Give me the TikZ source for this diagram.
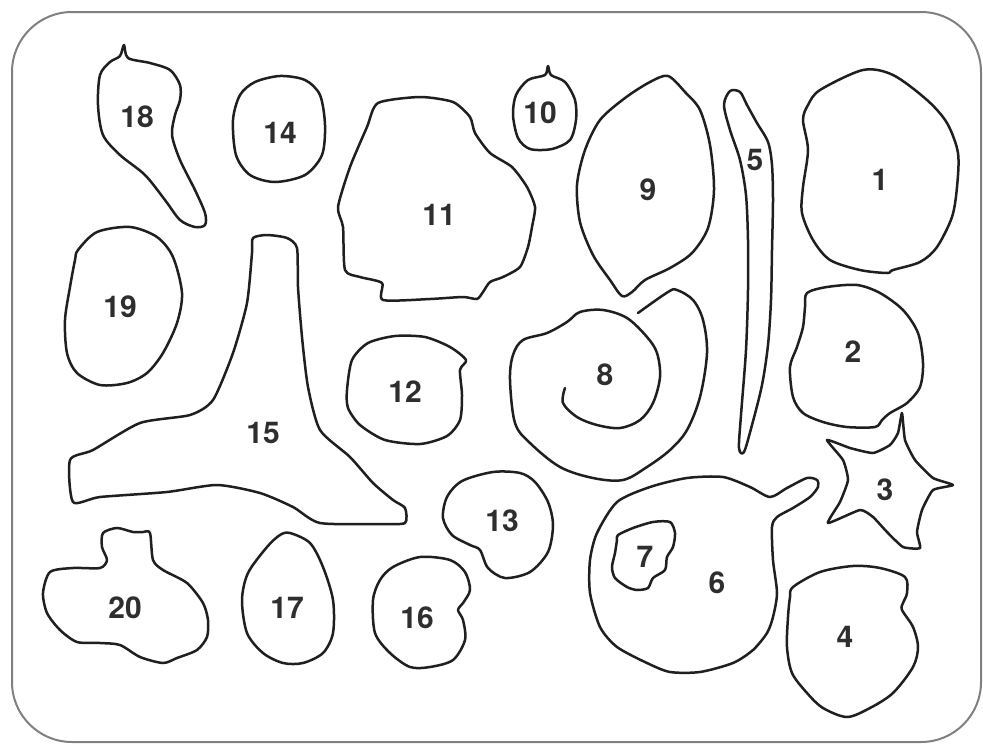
\documentclass[tikz,border=0pt]{standalone}
\usepackage{fontspec}
\setmainfont{TeX Gyre Heros}
\begin{document}
\begin{tikzpicture}[x=1pt,y=-1pt,
  blob/.style={draw=black!88, line width=2.5pt, line join=round, line cap=round},
  lbl/.style={font=\fontsize{30}{32}\selectfont\bfseries, text=black!82, inner sep=0pt}]
\useasboundingbox (0,0) rectangle (983,744);
\fill[white] (0,0) rectangle (983,744);
% frame
\draw[draw=black!50, line width=2pt, rounded corners=60pt] (12,12) rectangle (981,742);
% 18
\draw[blob] plot[smooth cycle, tension=0.5] coordinates {(124,45) (128,58) (150,63) (170,70) (180,85) (180,100) (175,115) (172,135) (180,160) (195,190) (205,213) (205,225) (195,227) (180,220) (165,200) (145,175) (120,155) (103,135) (98,105) (100,75) (110,62) (120,56)};
% 14
\draw[blob] plot[smooth cycle] coordinates {(280,76) (305,80) (320,95) (325,125) (322,155) (305,175) (275,182) (250,175) (236,155) (233,120) (240,95) (255,82)};
% 10
\draw[blob] plot[smooth cycle, tension=0.5] coordinates {(548,66) (551,75) (565,82) (575,100) (576,120) (570,140) (552,149) (530,149) (518,138) (513,115) (516,95) (528,80) (545,75)};
% 11
\draw[blob] plot[smooth cycle, tension=0.4] coordinates {(378,103) (420,97) (453,102) (470,117) (475,133) (490,153) (512,167) (527,187) (535,207) (532,227) (528,247) (520,267) (503,277) (490,282) (483,292) (477,299) (463,297) (430,299) (383,300) (382,283) (360,277) (345,270) (343,227) (338,207) (350,167) (367,127)};
% 9
\draw[blob] plot[smooth cycle, tension=0.5] coordinates {(622,296) (610,280) (593,255) (580,222) (577,185) (585,150) (600,120) (625,98) (650,82) (668,76) (685,92) (700,110) (710,145) (714,190) (708,228) (692,253) (670,268) (645,280) (632,292)};
% 5
\draw[blob] plot[smooth cycle, tension=0.5] coordinates {(730,91) (740,92) (747,105) (757,123) (768,142) (772,165) (773,200) (772,250) (771,300) (768,345) (762,385) (752,425) (744,452) (739,448) (741,415) (746,350) (748,290) (748,240) (746,195) (740,160) (730,130) (724,105)};
% 1
\draw[blob] plot[smooth cycle, tension=0.5] coordinates {(820,90) (863,70) (893,75) (927,100) (947,123) (958,153) (957,187) (952,217) (937,247) (920,262) (893,270) (887,273) (860,270) (830,260) (813,240) (802,213) (803,187) (808,150) (803,120) (808,105)};
% 19
\draw[blob] plot[smooth cycle] coordinates {(78,250) (97,232) (130,227) (157,237) (173,257) (182,293) (177,323) (163,353) (147,373) (127,383) (100,385) (77,373) (67,353) (65,320) (70,287) (75,260)};
% 15
\draw[blob] plot[smooth cycle, tension=0.4] coordinates {(253,238) (267,235) (287,238) (297,248) (298,287) (302,337) (308,387) (320,430) (350,457) (373,483) (393,500) (405,508) (405,523) (380,524) (320,523) (293,507) (260,493) (217,485) (167,492) (100,497) (73,502) (70,460) (93,450) (140,423) (190,415) (213,400) (233,353) (247,303) (252,253)};
% 12
\draw[blob] plot[smooth cycle, tension=0.45] coordinates {(347,390) (352,360) (368,343) (395,336) (425,337) (450,347) (466,360) (460,370) (462,395) (460,420) (447,436) (420,444) (385,440) (360,425) (348,408)};
% 8 spiral
\draw[blob] plot[smooth, tension=0.55] coordinates {(565,388) (563,403) (577,417) (597,425) (620,428) (640,420) (653,403) (660,377) (657,353) (647,337) (627,318) (603,310) (580,312) (567,322) (547,333) (523,340) (513,355) (510,380) (515,423) (530,443) (560,467) (593,478) (623,480) (647,467) (670,450) (687,430) (700,397) (707,353) (703,320) (693,300) (677,290) (668,292) (638,313)};
% 2
\draw[blob] plot[smooth cycle, tension=0.5] coordinates {(807,293) (827,287) (857,285) (880,293) (903,310) (918,333) (923,363) (920,387) (907,403) (890,413) (882,420) (875,427) (847,427) (823,422) (803,413) (793,397) (790,367) (797,347) (803,327) (805,307)};
% 3 star
\draw[blob] plot[smooth cycle, tension=0.3] coordinates {(902,413) (905,440) (915,460) (933,478) (953,485) (933,490) (922,510) (917,532) (920,548) (903,547) (887,532) (873,517) (860,510) (828,523) (840,502) (848,480) (843,460) (827,440) (850,448) (873,453) (890,445) (898,433)};
% 13
\draw[blob] plot[smooth cycle, tension=0.5] coordinates {(493,472) (520,473) (535,482) (548,502) (553,525) (548,552) (530,572) (505,578) (488,568) (480,550) (470,545) (452,535) (443,518) (447,497) (462,481)};
% 6
\draw[blob] plot[smooth cycle, tension=0.45] coordinates {(617,502) (650,487) (687,478) (723,477) (750,487) (770,497) (787,488) (807,478) (817,480) (818,487) (810,497) (793,508) (777,517) (772,527) (773,560) (777,593) (773,617) (767,633) (753,650) (733,663) (700,672) (670,672) (647,663) (617,647) (600,627) (590,593) (590,560) (597,533)};
% 7
\draw[blob] plot[smooth cycle, tension=0.45] coordinates {(618,535) (633,528) (653,522) (670,522) (675,533) (673,547) (667,557) (665,570) (653,578) (648,588) (637,590) (627,587) (615,578) (612,567) (615,553) (617,540)};
% 4
\draw[blob] plot[smooth cycle, tension=0.5] coordinates {(793,587) (820,572) (853,566) (880,568) (905,577) (907,593) (903,603) (902,610) (913,627) (918,647) (913,667) (893,693) (870,708) (847,717) (823,708) (807,693) (792,673) (787,647) (788,617) (790,597)};
% 20
\draw[blob] plot[smooth cycle, tension=0.45] coordinates {(50,572) (73,568) (100,568) (107,560) (102,547) (103,533) (117,528) (133,532) (143,532) (150,533) (153,560) (163,570) (187,583) (203,603) (208,620) (207,637) (197,650) (177,658) (163,663) (140,657) (120,645) (100,643) (77,642) (60,630) (47,613) (43,593)};
% 17
\draw[blob] plot[smooth cycle] coordinates {(290,533) (310,543) (323,567) (333,600) (333,633) (323,653) (303,663) (283,663) (263,653) (247,633) (242,600) (248,573) (267,547) (280,535)};
% 16
\draw[blob] plot[smooth cycle, tension=0.5] coordinates {(393,567) (420,557) (450,560) (465,572) (470,590) (463,603) (458,610) (463,620) (465,640) (453,660) (430,667) (410,667) (390,653) (375,633) (373,600) (380,580)};
% labels
\node[lbl] (l1) at (880,180) {1};
\node[lbl] (l2) at (853,352) {2};
\node[lbl] (l3) at (885,490) {3};
\node[lbl] (l4) at (845,637) {4};
\node[lbl] (l5) at (755,160) {5};
\node[lbl] (l6) at (717,583) {6};
\node[lbl] (l7) at (645,557) {7};
\node[lbl] (l8) at (605,375) {8};
\node[lbl] (l9) at (648,190) {9};
\node[lbl] (l10) at (540,113) {10};
\node[lbl] (l11) at (439,215) {11};
\node[lbl] (l12) at (405,392) {12};
\node[lbl] (l13) at (502,521) {13};
\node[lbl] (l14) at (280,133) {14};
\node[lbl] (l15) at (263,433) {15};
\node[lbl] (l16) at (417,618) {16};
\node[lbl] (l17) at (287,608) {17};
\node[lbl] (l18) at (137,117) {18};
\node[lbl] (l19) at (120,307) {19};
\node[lbl] (l20) at (125,608) {20};
\end{tikzpicture}
\end{document}
